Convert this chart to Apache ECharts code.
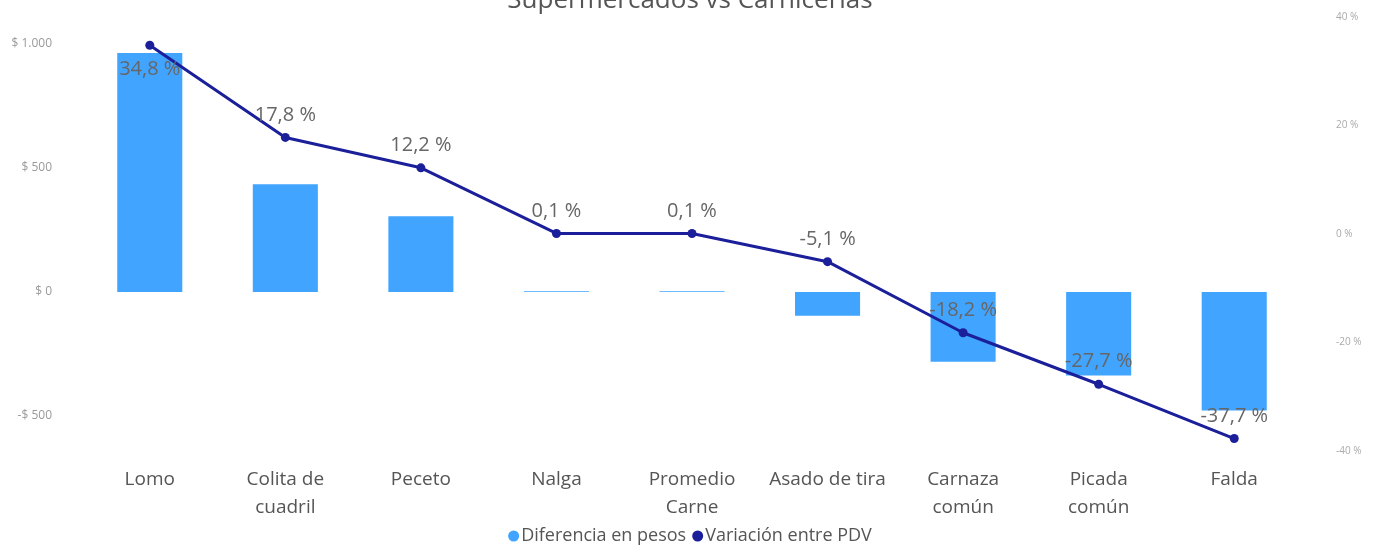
<!DOCTYPE html>
<html>
<head>
<meta charset="utf-8">
<script src="https://cdn.jsdelivr.net/npm/echarts@6/dist/echarts.min.js"></script>
<style>
  html, body { margin: 0; padding: 0; background: #fff; }
  #main { width: 1380px; height: 550px; }
</style>
</head>
<body>
<div id="main"></div>
<script>
  // datos del grafico
  var categorias = ['Lomo', 'Colita de\ncuadril', 'Peceto', 'Nalga', 'Promedio\nCarne', 'Asado de tira', 'Carnaza\ncomún', 'Picada\ncomún', 'Falda']
  var diferenciaPesos = [964, 434, 305, 3, 3, -96, -281, -337, -478]
  var variacionPDV = [34.8, 17.8, 12.2, 0.1, 0.1, -5.1, -18.2, -27.7, -37.7]

  var fuente = "'Segoe UI', 'Open Sans', 'Noto Sans', sans-serif"

  function pesos (v) {
    var s = Math.abs(v).toString().replace(/\B(?=(\d{3})+(?!\d))/g, '.')
    return (v < 0 ? '-' : '') + '$ ' + s
  }

  var myChart = echarts.init(document.getElementById('main'))
  var option = {
    animation: false,
    textStyle: { fontFamily: fuente },
    title: {
      text: 'Supermercados vs Carnicerías',
      left: 'center',
      top: -17,
      textStyle: { fontFamily: fuente, fontSize: 26, fontWeight: 'normal', color: '#555' }
    },
    legend: {
      bottom: 0,
      left: 'center',
      icon: 'circle',
      itemWidth: 11,
      itemHeight: 11,
      itemGap: 6,
      textStyle: { fontFamily: fuente, fontSize: 18, color: '#555', padding: [0, 0, 0, -3] },
      data: ['Diferencia en pesos', 'Variación entre PDV']
    },
    grid: [
      { left: 82, right: 78, top: 44, bottom: 134 },
      { left: 82, right: 78, top: 17, bottom: 99 }
    ],
    xAxis: [
      {
        type: 'category',
        gridIndex: 0,
        data: categorias,
        axisLine: { show: false },
        axisTick: { show: false },
        axisLabel: { show: false }
      },
      {
        type: 'category',
        gridIndex: 1,
        data: categorias,
        axisLine: { show: false },
        axisTick: { show: false },
        axisLabel: {
          margin: 15,
          fontFamily: fuente,
          fontSize: 19,
          lineHeight: 28,
          color: '#555',
          interval: 0
        }
      }
    ],
    yAxis: [
      {
        type: 'value',
        gridIndex: 0,
        position: 'left',
        min: -500,
        max: 1000,
        interval: 500,
        splitLine: { show: false },
        axisLine: { show: false },
        axisTick: { show: false },
        axisLabel: { margin: 30, fontSize: 12, color: '#999', formatter: pesos }
      },
      {
        type: 'value',
        gridIndex: 1,
        position: 'right',
        min: -40,
        max: 40,
        interval: 20,
        splitLine: { show: false },
        axisLine: { show: false },
        axisTick: { show: false },
        axisLabel: { margin: 34, fontSize: 10, color: '#aaa', formatter: '{value} %' }
      }
    ],
    series: [
      {
        name: 'Diferencia en pesos',
        type: 'bar',
        xAxisIndex: 0,
        yAxisIndex: 0,
        barWidth: '48%',
        itemStyle: { color: '#41A4FF' },
        data: diferenciaPesos
      },
      {
        name: 'Variación entre PDV',
        type: 'line',
        xAxisIndex: 1,
        yAxisIndex: 1,
        symbol: 'circle',
        symbolSize: 9,
        lineStyle: { color: '#1B1F9A', width: 3 },
        itemStyle: { color: '#1B1F9A' },
        z: 5,
        label: {
          show: true,
          position: 'top',
          distance: 8,
          fontFamily: fuente,
          fontSize: 20,
          color: '#666',
          formatter: function (p) {
            return p.value.toFixed(1).replace('.', ',') + ' %'
          }
        },
        data: variacionPDV.map(function (v, i) {
          // el primer punto lleva la etiqueta abajo
          if (i === 0) return { value: v, label: { position: 'bottom', distance: 10 } }
          return v
        })
      }
    ]
  }
  myChart.setOption(option)
</script>
</body>
</html>
